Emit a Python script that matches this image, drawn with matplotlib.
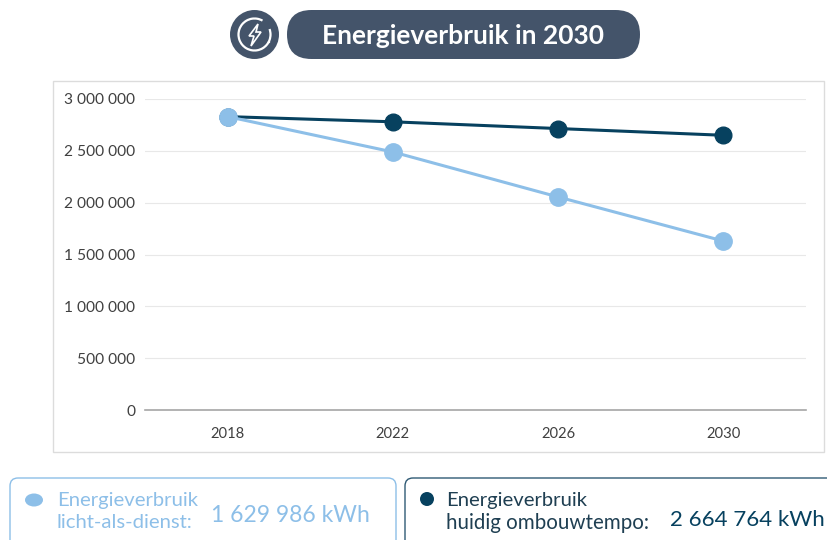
import matplotlib
matplotlib.use("Agg")
import matplotlib.pyplot as plt
from matplotlib.patches import Circle, Ellipse, FancyBboxPatch, Polygon, Rectangle, Arc

years = ["2018", "2022", "2026", "2030"]
licht_als_dienst = [2830000, 2489000, 2055000, 1629986]
huidig_tempo = [2830000, 2780000, 2715000, 2650000]
y_ticks = [0, 500000, 1000000, 1500000, 2000000, 2500000, 3000000]
y_labels = ["0", "500 000", "1 000 000", "1 500 000", "2 000 000", "2 500 000", "3 000 000"]

LIGHT = "#8dbfe8"
DARK = "#07415f"
SLATE = "#44546a"
W, H = 827, 540

plt.rcParams["font.family"] = ["Lato", "DejaVu Sans"]

fig = plt.figure(figsize=(W / 100, H / 100), dpi=100)

# overlay in pixel coordinates for the boxes and the title
bg = fig.add_axes([0, 0, 1, 1])
bg.set_xlim(0, W)
bg.set_ylim(H, 0)
bg.axis("off")

bg.add_patch(Rectangle((53, 81), 771, 371, fc="white", ec="#dcdcdc", lw=1))

# title pill and icon
bg.add_patch(FancyBboxPatch((287, 10), 353, 49, boxstyle="round,pad=0,rounding_size=24.5",
                            fc=SLATE, ec="none"))
bg.text(462.5, 35.5, "Energieverbruik in 2030", color="white", fontsize=19, fontweight="bold",
        ha="center", va="center")
bg.add_patch(Circle((254.5, 34.5), 24.5, fc=SLATE, ec="none"))
bg.add_patch(Arc((254.5, 34.5), 32, 32, theta1=-20, theta2=300, color="white", lw=1.6))
bg.add_patch(Polygon([(258, 24), (249, 36), (254, 36), (251, 46), (261, 32), (256, 32)],
                     closed=True, fc=SLATE, ec="white", lw=1.2))
bg.add_patch(Circle((269, 42), 1.2, fc="white", ec="none"))

# bottom boxes, they run off the page
bg.add_patch(FancyBboxPatch((10, 478), 386, 90, boxstyle="round,pad=0,rounding_size=8",
                            fc="white", ec=LIGHT, lw=1))
bg.add_patch(FancyBboxPatch((405, 478), 460, 90, boxstyle="round,pad=0,rounding_size=8",
                            fc="white", ec="#2f5a74", lw=1))

bg.add_patch(Ellipse((34, 500), 18, 13, fc=LIGHT, ec="none"))
bg.text(57, 500.5, "Energieverbruik", color=LIGHT, fontsize=14.6, va="center")
bg.text(57, 523, "licht-als-dienst:", color=LIGHT, fontsize=14.6, va="center")
bg.text(211, 515, "1 629 986 kWh", color=LIGHT, fontsize=16.5, va="center")

bg.add_patch(Ellipse((427, 499), 14, 14, fc=DARK, ec="none"))
bg.text(446, 500.5, "Energieverbruik", color="#1f3f52", fontsize=14.6, va="center")
bg.text(446, 523, "huidig ombouwtempo:", color="#1f3f52", fontsize=14.8, va="center")
bg.text(670, 520, "2 664 764 kWh", color=DARK, fontsize=16, va="center")

# the chart itself
ax = fig.add_axes([145 / W, 1 - 410 / H, 661 / W, 311 / H])
ax.patch.set_alpha(0)
ax.plot(years, huidig_tempo, color=DARK, lw=2.2, marker="o", ms=12, zorder=3)
ax.plot(years, licht_als_dienst, color=LIGHT, lw=2.2, marker="o", ms=12.5, zorder=4)
ax.set_xlim(-0.5, 3.5)
ax.set_ylim(0, 3000000)
ax.set_yticks(y_ticks)
ax.set_yticklabels(y_labels)
ax.grid(axis="y", color="#e8e8e8", lw=0.8)
ax.set_axisbelow(True)
for s in ["top", "right", "left"]:
    ax.spines[s].set_visible(False)
ax.spines["bottom"].set_color("#a6a6a6")
ax.spines["bottom"].set_linewidth(1.2)
ax.tick_params(length=0, labelcolor="#404040")
ax.tick_params(axis="x", pad=12, labelsize=10.6)
ax.tick_params(axis="y", pad=7, labelsize=11.2)

fig.savefig("out.png", dpi=100)
